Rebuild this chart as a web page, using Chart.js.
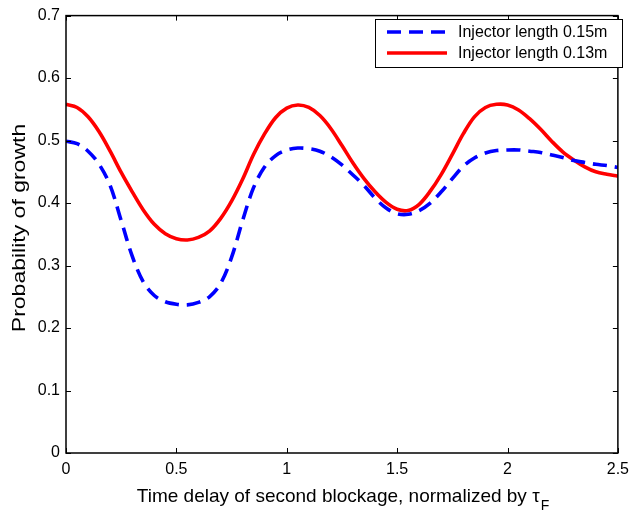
<!DOCTYPE html>
<html>
<head>
<meta charset="utf-8">
<script src="https://cdn.jsdelivr.net/npm/chart.js@4.4.1/dist/chart.umd.min.js"></script>
<style>
  html, body { margin: 0; padding: 0; background: #fff; }
  #wrap { width: 636px; height: 511px; }
</style>
</head>
<body>
<div id="wrap"><canvas id="chart"></canvas></div>
<script>
// values, every 0.05 of the delay
const delays = [0, 0.05, 0.1, 0.15, 0.2, 0.25, 0.3, 0.35, 0.4, 0.45, 0.5, 0.55, 0.6, 0.65, 0.7, 0.75, 0.8, 0.85, 0.9, 0.95,
  1.0, 1.05, 1.1, 1.15, 1.2, 1.25, 1.3, 1.35, 1.4, 1.45, 1.5, 1.55, 1.6, 1.65, 1.7, 1.75, 1.8, 1.85, 1.9, 1.95,
  2.0, 2.05, 2.1, 2.15, 2.2, 2.25, 2.3, 2.35, 2.4, 2.45, 2.5];
const blueY = [0.499, 0.495, 0.483, 0.462, 0.428, 0.372, 0.315, 0.274, 0.252, 0.242, 0.238, 0.237, 0.241, 0.25, 0.271, 0.313, 0.372, 0.425, 0.458, 0.476,
  0.485, 0.488, 0.487, 0.483, 0.474, 0.461, 0.445, 0.428, 0.408, 0.392, 0.383, 0.382, 0.388, 0.4, 0.418, 0.439, 0.459, 0.472, 0.48, 0.484,
  0.485, 0.485, 0.483, 0.481, 0.477, 0.473, 0.468, 0.465, 0.462, 0.46, 0.457];
const redY = [0.558, 0.553, 0.538, 0.514, 0.483, 0.449, 0.418, 0.389, 0.366, 0.351, 0.343, 0.341, 0.345, 0.355, 0.375, 0.403, 0.438, 0.478, 0.511, 0.537,
  0.552, 0.557, 0.553, 0.54, 0.519, 0.492, 0.464, 0.439, 0.418, 0.401, 0.39, 0.388, 0.398, 0.419, 0.446, 0.478, 0.511, 0.538, 0.553, 0.558,
  0.557, 0.549, 0.535, 0.518, 0.499, 0.482, 0.469, 0.458, 0.45, 0.446, 0.443];

const seriesNames = ["Injector length 0.15m", "Injector length 0.13m"];
const xTitle = "Time delay of second blockage, normalized by \u03c4";
const yTitle = "Probability of growth";

const FONT = "'Liberation Sans', Arial, Helvetica, sans-serif";

function pts(xs, ys) {
  return xs.map((x, i) => ({ x: x, y: ys[i] }));
}

// box, inward ticks, titles and legend (matlab look)
const matlabBits = {
  id: "matlabBits",
  afterDraw(chart) {
    const ctx = chart.ctx;
    const a = chart.chartArea;
    const xs = chart.scales.x, ys = chart.scales.y;
    ctx.save();
    ctx.strokeStyle = "#000";
    ctx.lineWidth = 1.5;
    ctx.strokeRect(a.left, a.top, a.right - a.left, a.bottom - a.top);
    ctx.lineWidth = 1;
    const tl = 5;
    xs.ticks.forEach(t => {
      const px = Math.round(xs.getPixelForValue(t.value)) + 0.5;
      ctx.beginPath();
      ctx.moveTo(px, a.bottom); ctx.lineTo(px, a.bottom - tl);
      ctx.moveTo(px, a.top); ctx.lineTo(px, a.top + tl);
      ctx.stroke();
    });
    ys.ticks.forEach(t => {
      const py = Math.round(ys.getPixelForValue(t.value)) + 0.5;
      ctx.beginPath();
      ctx.moveTo(a.left, py); ctx.lineTo(a.left + tl, py);
      ctx.moveTo(a.right, py); ctx.lineTo(a.right - tl, py);
      ctx.stroke();
    });

    // x title with the F subscript
    ctx.fillStyle = "#000";
    ctx.textBaseline = "alphabetic";
    ctx.textAlign = "left";
    ctx.font = "19px " + FONT;
    const w = ctx.measureText(xTitle).width;
    ctx.font = "14px " + FONT;
    const wf = ctx.measureText("F").width;
    const x0 = 133 + (420 - w - wf - 1) / 2;
    ctx.font = "19px " + FONT;
    ctx.fillText(xTitle, x0, 502);
    ctx.font = "14px " + FONT;
    ctx.fillText("F", x0 + w + 1, 510);

    // y title
    ctx.font = "23px " + FONT;
    ctx.translate(25, 228);
    ctx.rotate(-Math.PI / 2);
    ctx.scale(1, 0.82);
    ctx.textAlign = "center";
    ctx.fillText(yTitle, 0, 0);
    ctx.restore();

    // legend
    ctx.save();
    const lx = 375, ly = 19, lw = 247, lh = 48;
    ctx.fillStyle = "#fff";
    ctx.fillRect(lx, ly, lw, lh);
    ctx.strokeStyle = "#000";
    ctx.lineWidth = 1;
    ctx.strokeRect(lx + 0.5, ly + 0.5, lw, lh);
    chart.data.datasets.forEach((ds, i) => {
      const yy = 32 + i * 21;
      ctx.strokeStyle = ds.borderColor;
      ctx.lineWidth = ds.borderWidth;
      ctx.setLineDash(ds.borderDash || []);
      ctx.beginPath();
      ctx.moveTo(387, yy); ctx.lineTo(447, yy);
      ctx.stroke();
      ctx.setLineDash([]);
      ctx.fillStyle = "#000";
      ctx.font = "16px " + FONT;
      ctx.textBaseline = "middle";
      ctx.textAlign = "left";
      ctx.fillText(ds.label, 458, yy + 1);
    });
    ctx.restore();
  }
};

new Chart(document.getElementById("chart"), {
  type: "line",
  data: {
    datasets: [
      {
        label: seriesNames[0],
        data: pts(delays, blueY),
        borderColor: "#0000ff",
        borderWidth: 3.6,
        borderDash: [14, 8],
        pointRadius: 0,
        tension: 0.35,
        fill: false
      },
      {
        label: seriesNames[1],
        data: pts(delays, redY),
        borderColor: "#ff0000",
        borderWidth: 3.6,
        pointRadius: 0,
        tension: 0.35,
        fill: false
      }
    ]
  },
  options: {
    responsive: true,
    maintainAspectRatio: false,
    animation: false,
    layout: { padding: { top: 11, right: 14, left: 0, bottom: 0 } },
    plugins: { legend: { display: false }, tooltip: { enabled: false } },
    scales: {
      x: {
        type: "linear",
        min: 0, max: 2.5,
        ticks: {
          stepSize: 0.5, color: "#000", font: { size: 16, family: FONT }, padding: 7, maxRotation: 0,
          callback: v => String(v)
        },
        grid: { display: false, drawTicks: false },
        border: { display: false },
        afterFit: s => { s.height = 58; }
      },
      y: {
        min: 0, max: 0.7,
        ticks: {
          stepSize: 0.1, color: "#000", font: { size: 16, family: FONT }, padding: 6,
          callback: v => String(Math.round(v * 10) / 10)
        },
        grid: { display: false, drawTicks: false },
        border: { display: false },
        afterFit: s => { s.width = 66; }
      }
    }
  },
  plugins: [matlabBits]
});
</script>
</body>
</html>
